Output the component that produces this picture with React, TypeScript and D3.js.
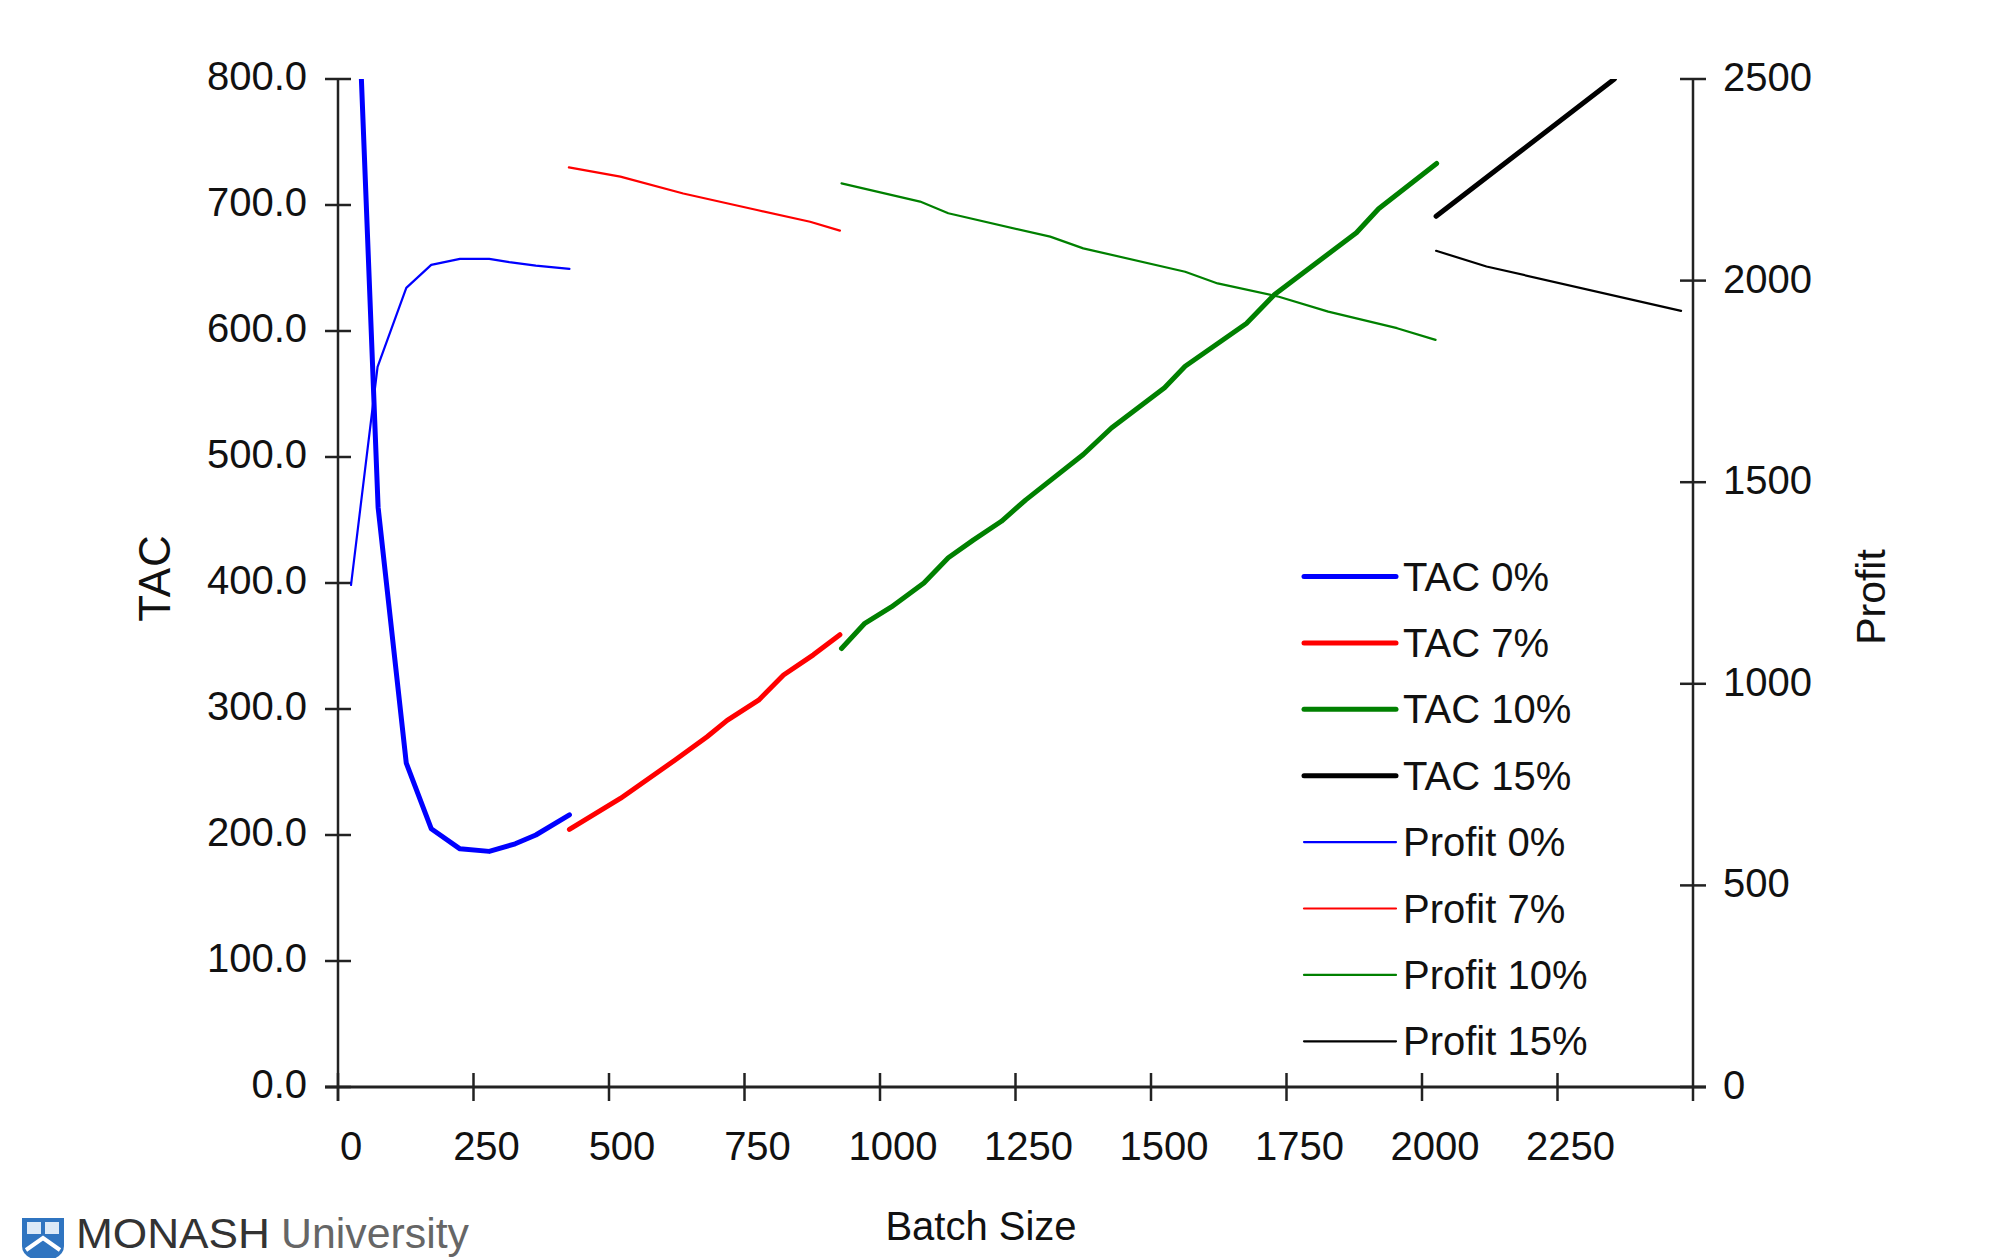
import React from "react";
import * as d3 from "d3";

// ---- data ----
const tac0X = [25, 74, 126, 172, 225, 279, 327, 365, 427];
const tac0Y = [1000, 460, 257, 205, 189, 187, 193, 200, 216];
const profit0X = [24, 73, 126, 172, 225, 279, 316, 365, 427];
const profit0Y = [1245, 1786, 1982, 2039, 2054, 2054, 2046, 2037, 2029];

const tac7X = [427, 521, 622, 681, 718, 776, 822, 877, 926];
const tac7Y = [204.5, 229, 259.5, 278, 291, 307, 327, 343, 359];
const profit7X = [426, 521, 637, 773, 871, 926];
const profit7Y = [2281, 2258, 2216, 2175, 2146, 2124];

const tac10X = [929, 972, 1021, 1081, 1126, 1172, 1224, 1269, 1375, 1427, 1525, 1563, 1676, 1728, 1879, 1920, 2027];
const tac10Y = [348, 368, 381, 400, 420, 434, 449, 466, 502, 523, 555, 572, 606, 629, 678, 697, 733];
const profit10X = [929, 1074, 1126, 1314, 1375, 1563, 1623, 1736, 1827, 1954, 2025];
const profit10Y = [2241, 2196, 2167, 2109, 2080, 2022, 1993, 1960, 1923, 1882, 1853];

const tac15X = [2026, 2180, 2355];
const tac15Y = [691, 742, 800];
const profit15X = [2026, 2119, 2478];
const profit15Y = [2074, 2035, 1925];

const xTicks = [0, 250, 500, 750, 1000, 1250, 1500, 1750, 2000, 2250];
const leftTicks = [0, 100, 200, 300, 400, 500, 600, 700, 800];
const rightTicks = [0, 500, 1000, 1500, 2000, 2500];

const legendLabels = ["TAC 0%", "TAC 7%", "TAC 10%", "TAC 15%", "Profit 0%", "Profit 7%", "Profit 10%", "Profit 15%"];
const colors = ["#0000ff", "#ff0000", "#008000", "#000000"];

// ---- layout ----
const W = 2000, H = 1258;
const left = 338, right = 1693, top = 79, bottom = 1087;
const FONT = "'Liberation Sans', Arial, Helvetica, sans-serif";

const x = d3.scaleLinear().domain([0, 2500]).range([left, right]);
const yL = d3.scaleLinear().domain([0, 800]).range([bottom, top]);
const yR = d3.scaleLinear().domain([0, 2500]).range([bottom, top]);

const zip = (xs: number[], ys: number[]) => xs.map((v, i) => [v, ys[i]] as [number, number]);

const tacSeries = [zip(tac0X, tac0Y), zip(tac7X, tac7Y), zip(tac10X, tac10Y), zip(tac15X, tac15Y)];
const profitSeries = [zip(profit0X, profit0Y), zip(profit7X, profit7Y), zip(profit10X, profit10Y), zip(profit15X, profit15Y)];

const lineL = d3.line<[number, number]>().x(d => x(d[0])).y(d => yL(d[1]));
const lineR = d3.line<[number, number]>().x(d => x(d[0])).y(d => yR(d[1]));

export default function App() {
  const fmt = d3.format(".1f");
  const axisColor = "#222";
  return (
    <svg width={W} height={H} style={{ position: "absolute", left: 0, top: 0, background: "#fff" }} fontFamily={FONT}>
      <defs>
        <clipPath id="plot">
          <rect x={left} y={top} width={right - left} height={bottom - top} />
        </clipPath>
      </defs>
      <rect x={0} y={0} width={W} height={H} fill="#fff" />

      {/* axes */}
      <line x1={left} y1={top} x2={left} y2={bottom + 14} stroke={axisColor} strokeWidth={2.5} />
      <line x1={right} y1={top} x2={right} y2={bottom + 14} stroke={axisColor} strokeWidth={2.5} />
      <line x1={left - 13} y1={bottom} x2={right + 13} y2={bottom} stroke={axisColor} strokeWidth={3} />

      {leftTicks.map(t => (
        <g key={"l" + t}>
          <line x1={left - 13} x2={left + 13} y1={yL(t)} y2={yL(t)} stroke={axisColor} strokeWidth={2.5} />
          <text x={307} y={yL(t) + 11} textAnchor="end" fontSize={40} fill="#111">{fmt(t)}</text>
        </g>
      ))}
      {rightTicks.map(t => (
        <g key={"r" + t}>
          <line x1={right - 13} x2={right + 13} y1={yR(t)} y2={yR(t)} stroke={axisColor} strokeWidth={2.5} />
          <text x={1723} y={yR(t) + 12} textAnchor="start" fontSize={40} fill="#111">{t}</text>
        </g>
      ))}
      {xTicks.map(t => (
        <g key={"x" + t}>
          <line x1={x(t)} x2={x(t)} y1={bottom - 14} y2={bottom + 14} stroke={axisColor} strokeWidth={2.5} />
          <text x={x(t) + 13} y={1160} textAnchor="middle" fontSize={40} fill="#111">{t}</text>
        </g>
      ))}

      {/* axis titles */}
      <text transform={`translate(170,578) rotate(-90)`} textAnchor="middle" fontSize={44} letterSpacing={1} fill="#111">TAC</text>
      <text transform={`translate(1885,597) rotate(-90)`} textAnchor="middle" fontSize={41} fill="#111">Profit</text>
      <text x={981} y={1240} textAnchor="middle" fontSize={40} fill="#111">Batch Size</text>

      {/* series */}
      <g clipPath="url(#plot)" fill="none" strokeLinejoin="round" strokeLinecap="round">
        {profitSeries.map((s, i) => (
          <path key={"p" + i} d={lineR(s) || ""} stroke={colors[i]} strokeWidth={2.2} />
        ))}
        {tacSeries.map((s, i) => (
          <path key={"t" + i} d={lineL(s) || ""} stroke={colors[i]} strokeWidth={5} />
        ))}
      </g>

      {/* legend */}
      {legendLabels.map((lab, i) => {
        const yy = 576.5 + i * 66.4;
        const thick = i < 4;
        return (
          <g key={lab}>
            <line x1={1304} x2={1396} y1={yy} y2={yy} stroke={colors[i % 4]} strokeWidth={thick ? 5 : 2.2} strokeLinecap="round" />
            <text x={1403} y={yy + 14} fontSize={40} fill="#111">{lab}</text>
          </g>
        );
      })}

      {/* logo */}
      <g>
        <path d="M22,1218 L64,1218 L64,1246 Q64,1258 43,1262 Q22,1258 22,1246 Z" fill="#2f74c0" />
        <rect x={27} y={1222} width={14} height={12} fill="#dce9f7" />
        <rect x={45} y={1222} width={14} height={12} fill="#dce9f7" />
        <path d="M26,1250 L43,1238 L60,1250" stroke="#fff" strokeWidth={4} fill="none" />
        <text x={76} y={1248} fontSize={42} fill="#333" textLength={194} lengthAdjust="spacingAndGlyphs">MONASH</text>
        <text x={281} y={1248} fontSize={42} fill="#666" textLength={188} lengthAdjust="spacingAndGlyphs">University</text>
      </g>
    </svg>
  );
}
